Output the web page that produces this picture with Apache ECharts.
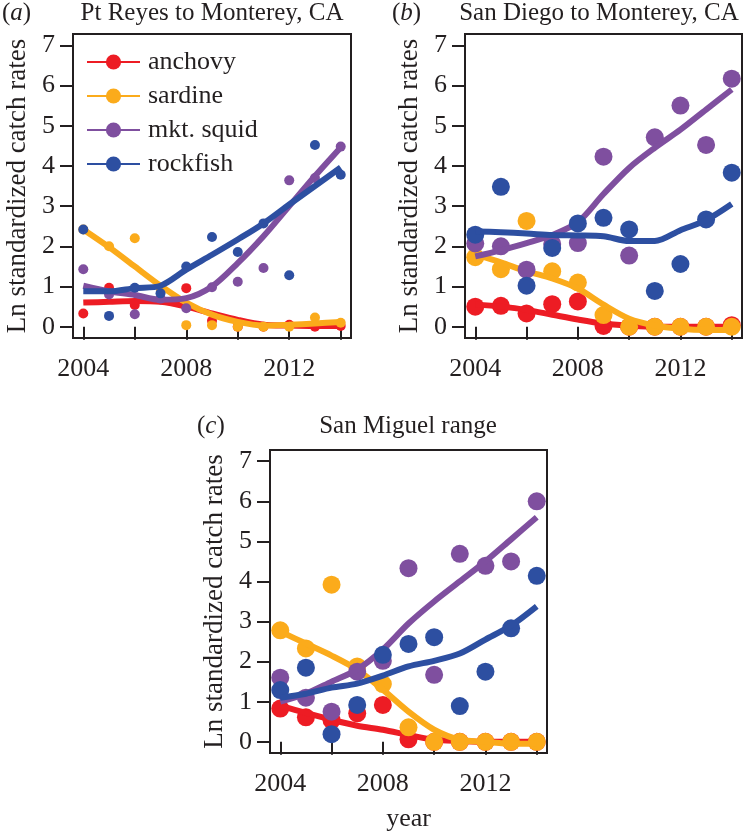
<!DOCTYPE html>
<html>
<head>
<meta charset="utf-8">
<script src="https://cdn.jsdelivr.net/npm/echarts@6/dist/echarts.min.js"></script>
<style>
  html, body { margin: 0; padding: 0; background: #fff; }
  #chart { width: 744px; height: 834px; }
</style>
</head>
<body>
<div id="chart"></div>
<script>
// years on the x axis
const years = [2004, 2005, 2006, 2007, 2008, 2009, 2010, 2011, 2012, 2013, 2014]
const species = ['anchovy', 'sardine', 'mkt. squid', 'rockfish']
const yTicks = [0, 1, 2, 3, 4, 5, 6, 7]
const xTicks = [2004, 2006, 2008, 2010, 2012, 2014]
const xLabels = [2004, 2008, 2012]

// (a) Pt Reyes to Monterey
const aAnchovyPts = [0.33, 0.97, 0.54, 0.68, 0.96, 0.15, 0.0, 0.0, 0.05, 0.0, 0.02]
const aAnchovyFit = [0.6, 0.62, 0.64, 0.62, 0.5, 0.33, 0.17, 0.05, 0.03, 0.02, 0.02]
const aSardinePts = [2.42, 2.0, 2.2, 0.95, 0.04, 0.04, 0.0, 0.0, 0.0, 0.23, 0.1]
const aSardineFit = [2.42, 1.98, 1.5, 1.02, 0.6, 0.3, 0.12, 0.03, 0.05, 0.08, 0.12]
const aSquidPts = [1.43, 0.8, 0.31, 0.7, 0.46, 0.98, 1.12, 1.46, 3.64, 3.7, 4.48]
const aSquidFit = [1.02, 0.88, 0.79, 0.67, 0.71, 1.0, 1.58, 2.25, 3.0, 3.75, 4.46]
const aRockfishPts = [2.42, 0.27, 0.97, 0.83, 1.5, 2.23, 1.86, 2.57, 1.28, 4.52, 3.78]
const aRockfishFit = [0.88, 0.88, 0.96, 1.02, 1.42, 1.79, 2.17, 2.57, 3.04, 3.5, 3.96]

// (b) San Diego to Monterey
const bAnchovyPts = [0.5, 0.52, 0.33, 0.56, 0.63, 0.02, 0.0, 0.0, 0.0, 0.0, 0.04]
const bAnchovyFit = [0.55, 0.5, 0.42, 0.3, 0.18, 0.08, 0.03, 0.0, 0.0, 0.0, 0.0]
const bSardinePts = [1.73, 1.43, 2.63, 1.38, 1.1, 0.29, 0.0, 0.0, 0.0, 0.0, 0.0]
const bSardineFit = [1.8, 1.6, 1.38, 1.2, 0.95, 0.55, 0.2, 0.03, -0.05, -0.08, -0.08]
const bSquidPts = [2.07, 2.0, 1.42, 2.06, 2.08, 4.23, 1.77, 4.71, 5.5, 4.52, 6.17]
const bSquidFit = [1.75, 1.9, 2.08, 2.28, 2.6, 3.3, 3.95, 4.45, 4.9, 5.4, 5.9]
const bRockfishPts = [2.29, 3.48, 1.02, 1.96, 2.57, 2.71, 2.42, 0.89, 1.56, 2.67, 3.83]
const bRockfishFit = [2.37, 2.35, 2.32, 2.28, 2.27, 2.25, 2.13, 2.13, 2.4, 2.65, 3.05]

// (c) San Miguel range
const cAnchovyPts = [0.83, 0.61, 0.54, 0.71, 0.92, 0.06, 0.0, 0.0, 0.0, 0.0, 0.0]
const cAnchovyFit = [0.9, 0.72, 0.55, 0.4, 0.3, 0.17, 0.05, 0.02, 0.0, 0.0, 0.0]
const cSardinePts = [2.78, 2.33, 3.92, 1.88, 1.44, 0.36, 0.0, 0.0, 0.0, 0.0, 0.0]
const cSardineFit = [2.75, 2.45, 2.15, 1.8, 1.3, 0.75, 0.3, 0.05, 0.0, -0.05, -0.05]
const cSquidPts = [1.6, 1.1, 0.75, 1.75, 2.02, 4.33, 1.67, 4.69, 4.39, 4.5, 6.0]
const cSquidFit = [1.0, 1.2, 1.5, 1.8, 2.3, 2.95, 3.5, 4.0, 4.5, 5.05, 5.6]
const cRockfishPts = [1.29, 1.85, 0.19, 0.92, 2.17, 2.44, 2.61, 0.89, 1.75, 2.83, 4.14]
const cRockfishFit = [1.1, 1.2, 1.35, 1.45, 1.65, 1.88, 2.02, 2.2, 2.55, 2.9, 3.38]

const colors = ['#ed1c24', '#fbab1b', '#7f4f9f', '#2d4fa1']
const ink = '#231f20'
const font = 'Liberation Serif'

const panels = [
  { grid: { left: 73, top: 34, width: 278, height: 304 }, dot: 10,
    pts: [aAnchovyPts, aSardinePts, aSquidPts, aRockfishPts],
    fit: [aAnchovyFit, aSardineFit, aSquidFit, aRockfishFit] },
  { grid: { left: 465, top: 34, width: 277, height: 304 }, dot: 18,
    pts: [bAnchovyPts, bSardinePts, bSquidPts, bRockfishPts],
    fit: [bAnchovyFit, bSardineFit, bSquidFit, bRockfishFit] },
  { grid: { left: 270, top: 450, width: 277, height: 303 }, dot: 18, xName: 'year',
    pts: [cAnchovyPts, cSardinePts, cSquidPts, cRockfishPts],
    fit: [cAnchovyFit, cSardineFit, cSquidFit, cRockfishFit] }
]

const pair = (arr) => years.map((y, i) => [y, arr[i]])

const grids = []
const xAxes = []
const yAxes = []
const series = []

panels.forEach((p, gi) => {
  grids.push(Object.assign({ show: true, borderColor: ink, borderWidth: 2, backgroundColor: 'transparent' }, p.grid))
  xAxes.push({
    gridIndex: gi, type: 'value', min: 2003.6, max: 2014.4,
    name: p.xName || '', nameLocation: 'middle', nameGap: 53,
    nameTextStyle: { fontFamily: font, fontSize: 26, color: ink },
    axisLine: { show: false },
    axisTick: { show: true, inside: false, length: 13, customValues: xTicks, lineStyle: { color: ink, width: 2 } },
    axisLabel: { customValues: xLabels, margin: 18, fontFamily: font, fontSize: 26, color: ink, formatter: (v) => String(v) },
    splitLine: { show: false }
  })
  yAxes.push({
    gridIndex: gi, type: 'value', min: -0.28, max: 7.28,
    name: 'Ln standardized catch rates', nameLocation: 'middle', nameGap: 42,
    nameTextStyle: { fontFamily: font, fontSize: 27, color: ink },
    axisLine: { show: false },
    axisTick: { show: true, inside: false, length: 13, customValues: yTicks, lineStyle: { color: ink, width: 2 } },
    axisLabel: { customValues: yTicks, margin: 18, fontFamily: font, fontSize: 26, color: ink },
    splitLine: { show: false }
  })
  species.forEach((name, si) => {
    series.push({
      name, type: 'line', xAxisIndex: gi, yAxisIndex: gi,
      data: pair(p.fit[si]), smooth: 0.3,
      symbol: 'circle', showSymbol: false, z: 3 + si,
      lineStyle: { width: 6, color: colors[si] },
      itemStyle: { color: colors[si] },
      emphasis: { disabled: true }
    })
  })
  species.forEach((name, si) => {
    series.push({
      name, type: 'scatter', xAxisIndex: gi, yAxisIndex: gi,
      data: pair(p.pts[si]), symbol: 'circle', symbolSize: p.dot, z: 2 + si,
      itemStyle: { color: colors[si], opacity: 1 },
      emphasis: { disabled: true }
    })
  })
})

const titleStyle = { fontFamily: font, fontSize: 25, fontWeight: 'normal', color: ink }
const tagRich = {
  n: { fontFamily: font, fontSize: 25, fontWeight: 'normal', color: ink },
  i: { fontFamily: font, fontSize: 25, fontWeight: 'normal', color: ink, fontStyle: 'italic' }
}
const tagStyle = { fontFamily: font, fontSize: 25, fontWeight: 'normal', color: ink, rich: tagRich }

const option = {
  backgroundColor: '#fff',
  animation: false,
  title: [
    { text: 'Pt Reyes to Monterey, CA', left: 212, top: 1, textAlign: 'center', textStyle: titleStyle, padding: 0 },
    { text: 'San Diego to Monterey, CA', left: 599, top: 1, textAlign: 'center', textStyle: titleStyle, padding: 0 },
    { text: 'San Miguel range', left: 408, top: 414, textAlign: 'center', textStyle: titleStyle, padding: 0 },
    { text: '{n|(}{i|a}{n|)}', left: 2, top: 1, textStyle: tagStyle, padding: 0 },
    { text: '{n|(}{i|b}{n|)}', left: 392, top: 1, textStyle: tagStyle, padding: 0 },
    { text: '{n|(}{i|c}{n|)}', left: 197, top: 414, textStyle: tagStyle, padding: 0 }
  ],
  legend: {
    data: species,
    orient: 'vertical',
    left: 86, top: 49,
    itemWidth: 53, itemHeight: 19, itemGap: 8,
    padding: 0,
    lineStyle: { width: 2 },
    textStyle: { fontFamily: font, fontSize: 26, color: ink, lineHeight: 25, padding: [0, 0, 0, 3] },
    selectedMode: false
  },
  grid: grids,
  xAxis: xAxes,
  yAxis: yAxes,
  series
}

const chart = echarts.init(document.getElementById('chart'))
chart.setOption(option)
</script>
</body>
</html>
